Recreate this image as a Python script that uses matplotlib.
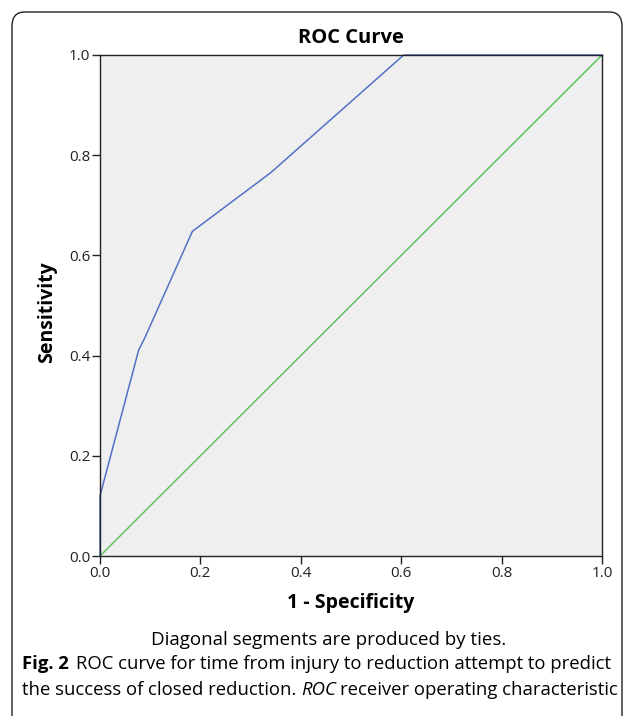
import matplotlib.pyplot as plt
from matplotlib.patches import FancyBboxPatch

# ROC curve points
fpr = [0.0, 0.0, 0.077, 0.09, 0.184, 0.34, 0.605, 1.0]
tpr = [0.0, 0.12, 0.411, 0.437, 0.648, 0.765, 1.0, 1.0]
ref_line = [0.0, 1.0]
ticks = [0.0, 0.2, 0.4, 0.6, 0.8, 1.0]
tick_labels = ['0.0', '0.2', '0.4', '0.6', '0.8', '1.0']

W, H = 635, 716
fig = plt.figure(figsize=(W / 100, H / 100), dpi=100)

# rounded frame around the figure + caption
frame = FancyBboxPatch((12 / W, -0.05), (622 - 12) / W, (H - 12) / H + 0.05,
                       boxstyle='round,pad=0,rounding_size=0.02',
                       transform=fig.transFigure, fc='none', ec='#222222', lw=1.0,
                       zorder=-1)
fig.patches.append(frame)

ax = fig.add_axes([100 / W, 1 - 556 / H, 502 / W, 501 / H])
ax.set_facecolor('#efefef')
ax.plot(fpr, tpr, color='#5470c6', lw=1.1, clip_on=False)
ax.plot(ref_line, ref_line, color='#5cc45c', lw=1.1)
ax.set_xlim(0, 1)
ax.set_ylim(0, 1)
ax.set_xticks(ticks)
ax.set_xticklabels(tick_labels, family='Open Sans', fontsize=11)
ax.set_yticks(ticks)
ax.set_yticklabels(tick_labels, family='Open Sans', fontsize=11)
ax.tick_params(direction='out', length=6, width=1, colors='#222222', pad=1)
for s in ax.spines.values():
    s.set_color('#222222')
    s.set_linewidth(1.0)

fig.text(351 / W, 1 - 38 / H, 'ROC Curve', ha='center', va='center',
         fontsize=14.5, fontweight='bold', family='Open Sans')
fig.text(351 / W, 1 - 603 / H, '1 - Specificity', ha='center', va='center',
         fontsize=14, fontweight='bold', family='Open Sans')
fig.text(47 / W, 1 - 312 / H, 'Sensitivity', ha='center', va='center', rotation=90,
         fontsize=14, fontweight='bold', family='Open Sans')
fig.text(329 / W, 1 - 640 / H, 'Diagonal segments are produced by ties.', ha='center',
         va='center', fontsize=13.5, family='Open Sans', fontweight='medium')

# caption
cap_fs = 13.3
y1 = 1 - 664 / H
t = fig.text(22 / W, y1, 'Fig. 2', ha='left', va='center', fontsize=cap_fs,
             fontweight='bold', family='Open Sans')
fig.canvas.draw()
bb = t.get_window_extent()
fig.text(bb.x1 / W + 7 / W, y1, 'ROC curve for time from injury to reduction attempt to predict',
         ha='left', va='center', fontsize=cap_fs, family='Open Sans')
y2 = 1 - 690 / H
t2 = fig.text(22 / W, y2, 'the success of closed reduction. ', ha='left', va='center',
              fontsize=cap_fs, family='Open Sans')
fig.canvas.draw()
bb2 = t2.get_window_extent()
t3 = fig.text(bb2.x1 / W, y2, 'ROC', ha='left', va='center', fontsize=cap_fs,
              style='italic', family='Open Sans')
fig.canvas.draw()
bb3 = t3.get_window_extent()
fig.text(bb3.x1 / W + 4 / W, y2, 'receiver operating characteristic', ha='left', va='center',
         fontsize=cap_fs, family='Open Sans')

fig.savefig('out.png', dpi=100)
